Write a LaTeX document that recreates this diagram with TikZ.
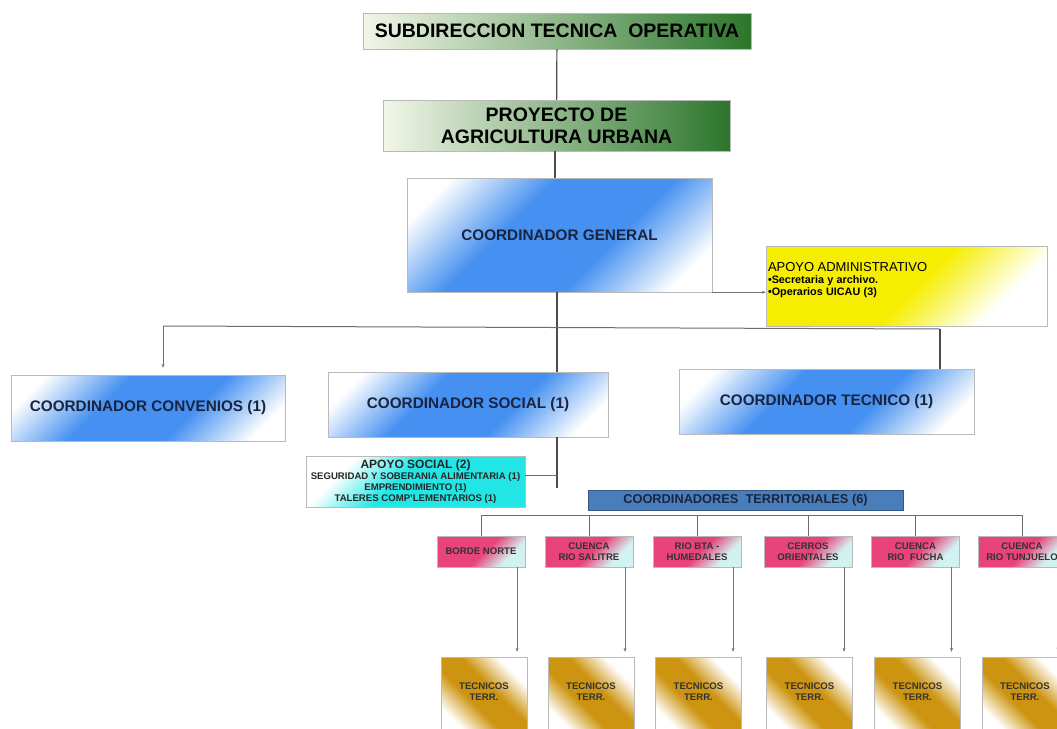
\documentclass[tikz,border=0pt]{standalone}
\usepackage{fontspec}
\setmainfont{Liberation Sans}
\usetikzlibrary{arrows.meta,positioning}

\definecolor{palegrn}{HTML}{F2F6E8}
\definecolor{darkgrn}{HTML}{2B762B}
\definecolor{gblue}{HTML}{4590F0}
\definecolor{navytxt}{HTML}{1A2440}
\definecolor{yellowc}{HTML}{F5EE00}
\definecolor{cyanc}{HTML}{22E6E6}
\definecolor{hdrblue}{HTML}{4A7EBB}
\definecolor{pinkc}{HTML}{E8437A}
\definecolor{lcyan}{HTML}{D2F1F1}
\definecolor{goldc}{HTML}{CC9410}

\pgfdeclareverticalshading{blueband}{100bp}{color(0bp)=(white); color(22bp)=(white); color(40bp)=(gblue); color(60bp)=(gblue); color(78bp)=(white); color(100bp)=(white)}
\pgfdeclareverticalshading{yellowsh}{100bp}{color(0bp)=(white); color(28bp)=(white); color(48bp)=(yellowc); color(100bp)=(yellowc)}
\pgfdeclareverticalshading{cyansh}{100bp}{color(0bp)=(cyanc); color(55bp)=(cyanc); color(72bp)=(white); color(100bp)=(white)}
\pgfdeclareverticalshading{pinksh}{100bp}{color(0bp)=(lcyan); color(30bp)=(lcyan); color(48bp)=(pinkc); color(100bp)=(pinkc)}
\pgfdeclareverticalshading{goldsh}{100bp}{color(0bp)=(white); color(27bp)=(white); color(43bp)=(goldc); color(57bp)=(goldc); color(73bp)=(white); color(100bp)=(white)}

\begin{document}
\begin{tikzpicture}[x=1pt,y=-1pt,
  every node/.style={rectangle,draw=gray!55,inner sep=2pt,align=center},
  greenbox/.style={left color=palegrn,right color=darkgrn,text=black},
  bluebox/.style={shading=blueband,shading angle=45,text=navytxt,
    font=\bfseries\fontsize{15.3}{18}\selectfont},
  admbox/.style={shading=yellowsh,shading angle=45,align=left,text width=277pt},
  cyanbox/.style={shading=cyansh,shading angle=45,text=black!85,
    font=\bfseries\fontsize{9.6}{11}\selectfont},
  hdrbox/.style={fill=hdrblue,draw=hdrblue!70!black,text=navytxt,
    font=\bfseries\fontsize{12.8}{14}\selectfont},
  zonebox/.style={shading=pinksh,shading angle=45,minimum width=88pt,minimum height=31pt,
    text=black!80,font=\bfseries\fontsize{9.6}{11}\selectfont},
  tecbox/.style={shading=goldsh,shading angle=-45,minimum width=86pt,minimum height=80pt,
    text=black!80,font=\bfseries\fontsize{9.6}{11}\selectfont},
  conn/.style={draw=black!70,line width=1.2pt},
  bus/.style={draw=gray!85!black,line width=1pt},
  arr/.style={draw=gray!90!black,line width=0.6pt,-{Stealth[length=4pt,width=3pt]}}]

  \useasboundingbox (0,0) rectangle (1057,728);
  \clip (0,0) rectangle (1057,728);

  % top of the chart
  \node[greenbox,minimum width=388pt,minimum height=36pt,
    font=\bfseries\fontsize{19.5}{22}\selectfont] (sub) at (557,31) {SUBDIRECCION TECNICA~ OPERATIVA};
  \node[greenbox,minimum width=347pt,minimum height=51pt,
    font=\bfseries\fontsize{19.5}{22}\selectfont] (proy) at (556.5,125.5) {PROYECTO DE\\AGRICULTURA URBANA};
  \node[bluebox,minimum width=305pt,minimum height=114pt] (gen) at (559.5,235) {COORDINADOR GENERAL};
  \node[admbox,minimum height=80pt,text depth=38pt] (adm) at (906.5,286)
    {{\fontsize{13}{14}\selectfont APOYO ADMINISTRATIVO}\\[0pt]
     {\bfseries\fontsize{10.8}{12}\selectfont •Secretaria y archivo.\\•Operarios UICAU (3)}};

  % second level
  \node[bluebox,minimum width=274pt,minimum height=66pt] (conv) at (148,408) {COORDINADOR CONVENIOS (1)};
  \node[bluebox,minimum width=280pt,minimum height=65pt] (soc) at (468,404.5) {COORDINADOR SOCIAL (1)};
  \node[bluebox,minimum width=295pt,minimum height=65pt] (tec) at (826.5,401.5) {COORDINADOR TECNICO (1)};
  \node[cyanbox,minimum width=219pt,minimum height=51pt] (aps) at (415.5,481.5)
    {{\fontsize{12}{11}\selectfont APOYO SOCIAL (2)}\\SEGURIDAD Y SOBERANIA ALIMENTARIA (1)\\EMPRENDIMIENTO (1)\\TALERES COMP'LEMENTARIOS (1)};
  \node[hdrbox,minimum width=315pt,minimum height=20pt] (hdr) at (745.5,500) {COORDINADORES~ TERRITORIALES (6)};

  % territorial zones and their teams
  \foreach \i/\zx/\tx/\zname in {1/481/484/{BORDE NORTE},2/589/591/{CUENCA\\RIO SALITRE},
      3/697/698.5/{RIO BTA -\\HUMEDALES},4/808/809.5/{CERROS\\ORIENTALES},
      5/915.5/917.5/{CUENCA\\RIO~ FUCHA},6/1022/1025/{CUENCA\\RIO TUNJUELO}} {
    \node[zonebox] (z\i) at (\zx,551.5) {\zname};
    \node[tecbox] (t\i) at (\tx,697) {TECNICOS\\TERR.\\[-1pt]};
  }

  % connectors
  \coordinate (busL) at (163,326);
  \coordinate (busR) at (940,329);
  \coordinate (socdn) at (557,488);
  \coordinate (zbus) at (0,515);

  \draw[conn] (sub) -- (proy);
  \draw[conn] (proy.south -| 555,0) -- (gen.north -| 555,0);
  \draw[conn] (gen.south -| socdn) -- (soc.north -| socdn);
  \draw[arr] (gen.south east) -- (gen.south east -| adm.west);
  \draw[bus] (busL) -- (busR);
  \draw[arr,shorten >=7pt] (busL) -- (busL |- conv.north);
  \draw[conn] (busR) -- (busR |- tec.north);
  \draw[conn] (soc.south -| socdn) -- (socdn);
  \draw[bus] ([yshift=6pt]aps.east) -- ([yshift=6pt]aps.east -| socdn);
  \draw[bus] (z1.north |- zbus) -- (z6.north |- zbus);
  \foreach \i in {1,...,6} {
    \draw[bus] (z\i.north |- zbus) -- (z\i.north);
    \draw[arr,shorten >=5pt] ([xshift=36pt]z\i.south) -- ([xshift=36pt]z\i.south |- t\i.north);
  }
\end{tikzpicture}
\end{document}
